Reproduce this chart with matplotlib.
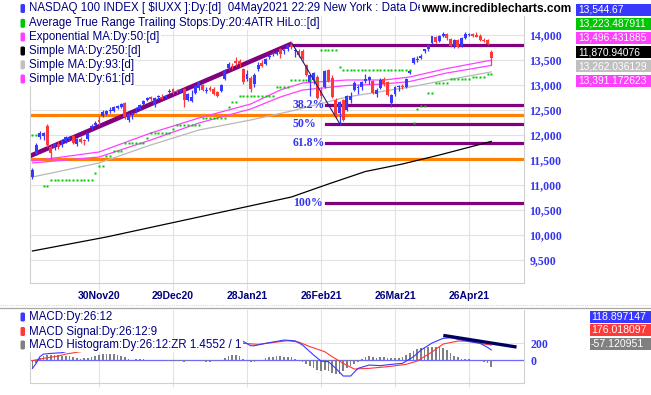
import numpy as np
import matplotlib.pyplot as plt
from matplotlib.patches import FancyBboxPatch, Rectangle

# x positions are trading-day numbers, 0 = 3 Nov 2020, 124 = 4 May 2021
date_ticks = [18, 38, 58, 78, 98, 118]
date_labels = ['30Nov20', '29Dec20', '28Jan21', '26Feb21', '26Mar21', '26Apr21']

opens = [11160, 11620, 11960, 11980, 12180, 11760, 11740, 11830, 11800, 11880,
         11930, 11980, 11820, 11920, 11890, 11920, 12150, 12200, 12300, 12380,
         12420, 12480, 12490, 12550, 12560, 12640, 12300, 12400, 12460, 12520,
         12620, 12700, 12760, 12600, 12760, 12770, 12760, 12860, 12930, 12880,
         12880, 12930, 12700, 12680, 12840, 12950, 13000, 12890, 12950, 12930,
         12860, 12880, 13120, 13340, 13380, 13480, 13480, 13320, 13120, 13150,
         13020, 13320, 13440, 13420, 13570, 13620, 13620, 13720, 13680, 13720,
         13800, 13680, 13680, 13680, 13400, 13060, 13100, 13160, 12900, 12960,
         13300, 13150, 12700, 12450, 12700, 12500, 12700, 12900, 12950, 12960,
         13080, 13100, 13080, 12820, 12950, 13120, 13060, 12640, 12820, 12960,
         12990, 12970, 13250, 13440, 13500, 13540, 13680, 13720, 13840, 13960,
         13880, 13990, 14030, 13920, 13780, 13910, 13790, 13950, 14000, 14020,
         14000, 13990, 13900, 13900, 13670]
highs = [11350, 11850, 12080, 12060, 12230, 11800, 11850, 11880, 11920, 11990,
         11990, 12010, 11950, 11960, 11930, 12060, 12220, 12280, 12380, 12500,
         12500, 12560, 12580, 12610, 12640, 12660, 12440, 12460, 12560, 12620,
         12700, 12760, 12780, 12760, 12800, 12820, 12810, 12930, 12940, 12920,
         12920, 12940, 12840, 12900, 13000, 13080, 13020, 12960, 12990, 12960,
         12880, 13020, 13320, 13460, 13440, 13560, 13520, 13340, 13300, 13190,
         13250, 13460, 13500, 13540, 13620, 13680, 13680, 13740, 13720, 13810,
         13870, 13740, 13720, 13720, 13420, 13220, 13260, 13200, 12960, 13300,
         13330, 13200, 12740, 12680, 12720, 12800, 12860, 13080, 13000, 13080,
         13220, 13190, 13100, 12950, 13140, 13160, 13080, 12830, 12990, 13000,
         13020, 13140, 13300, 13560, 13580, 13620, 13730, 13820, 13990, 13980,
         14010, 14060, 14050, 13950, 13920, 13930, 13960, 14060, 14050, 14040,
         14070, 14020, 13950, 13920, 13700]
lows = [11120, 11600, 11930, 11900, 11760, 11520, 11700, 11720, 11760, 11850,
        11880, 11820, 11780, 11840, 11800, 11880, 12130, 12180, 12200, 12370,
        12400, 12450, 12470, 12530, 12540, 12320, 12260, 12330, 12440, 12500,
        12600, 12680, 12680, 12560, 12700, 12720, 12740, 12840, 12820, 12840,
        12850, 12560, 12680, 12660, 12830, 12900, 12880, 12840, 12880, 12800,
        12760, 12860, 13100, 13300, 13320, 13380, 13360, 13020, 13080, 12860,
        12960, 13280, 13360, 13400, 13520, 13590, 13600, 13540, 13620, 13680,
        13730, 13570, 13570, 13480, 13180, 12780, 13020, 12720, 12720, 12940,
        13060, 12740, 12340, 12210, 12280, 12480, 12650, 12880, 12830, 12900,
        13040, 13020, 12820, 12760, 12930, 12990, 12780, 12560, 12780, 12880,
        12920, 12950, 13220, 13420, 13460, 13520, 13640, 13680, 13820, 13840,
        13860, 13960, 13900, 13760, 13740, 13740, 13770, 13930, 13980, 13960,
        13960, 13880, 13860, 13800, 13400]
closes = [11300, 11800, 12040, 12040, 11800, 11640, 11830, 11760, 11900, 11960,
          11950, 11840, 11930, 11860, 11880, 12040, 12180, 12250, 12260, 12470,
          12480, 12500, 12560, 12580, 12620, 12360, 12420, 12440, 12480, 12610,
          12680, 12740, 12720, 12740, 12770, 12730, 12790, 12880, 12860, 12870,
          12900, 12700, 12820, 12760, 12980, 13060, 12900, 12910, 12900, 12820,
          12790, 13000, 13300, 13420, 13370, 13440, 13420, 13070, 13220, 12930,
          13200, 13400, 13380, 13530, 13590, 13650, 13660, 13620, 13700, 13800,
          13760, 13710, 13600, 13530, 13210, 13200, 13240, 12740, 12780, 13280,
          13080, 12760, 12400, 12660, 12300, 12780, 12790, 13040, 12960, 13060,
          13120, 13160, 12840, 12900, 13100, 13020, 12800, 12800, 12960, 12980,
          12960, 13120, 13290, 13540, 13520, 13590, 13720, 13800, 13980, 13860,
          13990, 14020, 13940, 13790, 13900, 13760, 13940, 14030, 14030, 13990,
          13970, 13900, 13880, 13820, 13545]

# ATR trailing stop, read as runs of equal level
stop_first = [0, 3, 5, 17, 18, 20, 22, 25, 31, 32, 38, 39, 46, 53, 54, 56, 66, 70,
              78, 83, 84, 103, 104, 105, 107, 109, 113, 119, 123]
stop_last = [1, 4, 16, 17, 19, 21, 24, 30, 31, 37, 38, 45, 52, 53, 55, 65, 69, 77,
             82, 83, 102, 103, 104, 106, 108, 112, 118, 122, 124]
stop_level = [12000, 10990, 11100, 11250, 11390, 11580, 11680, 11840, 11940, 12040,
              12120, 12200, 12340, 12560, 12660, 12780, 12960, 13100, 13700, 13360,
              13300, 12240, 12520, 12580, 12850, 13040, 13120, 13160, 13220]

sma250_x = [0, 10, 20, 30, 40, 50, 60, 70, 80, 90, 100, 110, 124]
sma250_y = [9680, 9820, 9960, 10120, 10280, 10440, 10600, 10760, 11020, 11270,
            11420, 11600, 11871]
sma93_x = [0, 18, 32, 45, 59, 70, 85, 102, 112, 124]
sma93_y = [11160, 11440, 11800, 12100, 12300, 12480, 12760, 12960, 13100, 13262]
ma_x = [0, 18, 32, 45, 59, 67, 73, 85, 95, 102, 112, 124]
ema50_y = [11480, 11660, 12040, 12340, 12620, 12900, 13040, 13100, 13100, 13160,
           13330, 13496]
sma61_y = [11440, 11560, 11900, 12240, 12520, 12760, 12900, 12990, 13020, 13070,
           13240, 13391]

# drawn lines
trend_x = [-0.65, 70.2]
trend_y = [11580, 13830]
retrace_x = [70.2, 83.1]
retrace_y = [13830, 12220]
top_line_start = 70.2
fib_high = 13800
fib_low = 10640
fib_ratios = [0.382, 0.5, 0.618, 1.0]
fib_names = ['38.2%', '50%', '61.8%', '100%']
fib_start = 79.4
orange_levels = [12400, 11520]

# MACD panel
macd_x = [0, 1, 2, 3, 5, 8, 10, 15, 20, 25, 30, 35, 40, 45, 50, 53, 55, 56, 59, 60,
          63, 68, 71, 73, 76, 78, 80, 82, 84, 86, 88, 91, 94, 97, 100, 103, 105, 108,
          111, 113, 116, 118, 121, 123, 124]
macd_y = [-98, -40, 39, 70, 78, 86, 110, 150, 170, 175, 160, 150, 145, 150, 165, 200,
          235, 243, 168, 168, 196, 235, 226, 176, 59, -12, -20, -98, -188, -188,
          -98, -59, -66, -51, -39, 39, 117, 200, 255, 262, 235, 216, 196, 149, 119]
signal_x = [0, 3, 7, 9, 13, 20, 25, 30, 35, 40, 45, 50, 55, 57, 61, 69, 72, 75, 79,
            81, 84, 87, 91, 96, 101, 104, 108, 111, 115, 118, 122, 124]
signal_y = [-8, 20, 47, 70, 98, 135, 155, 160, 158, 152, 150, 155, 168, 196, 184, 227,
            211, 157, 98, 39, -39, -106, -98, -78, -51, -12, 95, 188, 223, 223, 188, 176]
hist = [-100, -40, 20, 45, 55, 60, 60, 55, 50, 50,
        45, 40, 25, 15, 20, 25, 40, 50, 60, 70,
        70, 70, 65, 60, 50, 30, 10, 5, 8, 10,
        8, 5, 3, 0, 0, -5, -5, -10, -15, -10,
        -8, -20, -15, -8, -5, 0, -15, -20, -20, -10,
        -12, 5, 25, 45, 60, 63, 45, 15, 5, -25,
        -22, -5, 5, 20, 30, 40, 42, 43, 40, 40,
        30, 15, 5, -24, -45, -74, -95, -115, -133, -115,
        -133, -150, -160, -165, -125, -95, -75, -50, -20, 10,
        30, 50, 35, 18, 30, 40, 18, 22, 24, 26,
        32, 55, 85, 110, 128, 138, 143, 148, 155, 157,
        150, 138, 118, 85, 50, 32, 14, 10, 8, 3,
        0, -5, -20, -40, -80]
macd_trend_x = [111.5, 130.4]
macd_trend_y = [286, 156]

main_legend = ['NASDAQ 100 INDEX [ \\$IUXX ]:Dy:[d]  04May2021 22:29 New York : Data De',
               'Average True Range Trailing Stops:Dy:20:4ATR HiLo::[d]',
               'Exponential MA:Dy:50:[d]', 'Simple MA:Dy:250:[d]',
               'Simple MA:Dy:93:[d]', 'Simple MA:Dy:61:[d]']
main_colors = ['#3838ff', '#00c800', '#ff40ff', '#000000', '#c0c0c0', '#ff40ff']
main_values = ['13,544.67', '13,223.487911', '13,496.431885', '11,870.94076',
               '13,262.036129', '13,391.172623']
macd_legend = ['MACD:Dy:26:12', 'MACD Signal:Dy:26:12:9', 'MACD Histogram:Dy:26:12:ZR 1.4552 / 1']
macd_colors = ['#3838ff', '#ff3838', '#808080']
macd_values = ['118.897147', '176.018097', '-57.120951']

NAVY = '#000080'
TICKBLUE = '#3535f0'
GRID = '#e2e2e2'
FRAME = '#d0d0d0'

W, H = 651, 395
fig = plt.figure(figsize=(6.51, 3.95), dpi=100)
plt.rcParams['font.family'] = ['Liberation Sans', 'DejaVu Sans']


def px_axes(l, t, r, b):
    return fig.add_axes([l / W, 1 - b / H, (r - l) / W, (b - t) / H])


# ---------------- price panel ----------------
ax = px_axes(30, 1, 524, 283)
ax.set_xlim(-0.65, 132.86)
ax.set_ylim(9040, 14680)
ax.set_yticks(range(9500, 14001, 500))
ax.set_yticklabels([f'{v:,}' for v in range(9500, 14001, 500)])
ax.yaxis.tick_right()
ax.tick_params(axis='y', length=0, pad=4, labelcolor=TICKBLUE, labelsize=8.5)
for t in ax.get_yticklabels():
    t.set_fontfamily('Liberation Serif')
    t.set_fontweight('bold')
ax.set_xticks(date_ticks)
ax.set_xticklabels(date_labels)
ax.tick_params(axis='x', length=5, color=GRID, pad=1, labelcolor=NAVY, labelsize=7.5)
for t in ax.get_xticklabels():
    t.set_fontweight('bold')
ax.grid(True, color=GRID, lw=0.8, zorder=0)
ax.set_axisbelow(True)
ax.spines['top'].set_visible(False)
for s in ['left', 'right', 'bottom']:
    ax.spines[s].set_color(FRAME)

for lvl in orange_levels:
    ax.axhline(lvl, color='#ff8000', lw=2.3, zorder=2)

ax.plot(trend_x, trend_y, color='#800080', lw=3.3, solid_capstyle='butt', zorder=2)
ax.plot([top_line_start, 132.86], [fib_high, fib_high], color='#800080', lw=2.3, zorder=2)
for r, name in zip(fib_ratios, fib_names):
    lvl = fib_high - r * (fib_high - fib_low)
    ax.plot([fib_start, 132.86], [lvl, lvl], color='#800080', lw=2.3, zorder=2)
    ax.text(70.4, lvl, name, color=TICKBLUE, fontsize=8.5, fontweight='bold',
            family='Liberation Serif', va='center', ha='left', zorder=5)
ax.plot(retrace_x, retrace_y, color='#202070', lw=0.8, zorder=4)

ax.plot(sma250_x, sma250_y, color='black', lw=0.9, zorder=2.5)
ax.plot(sma93_x, sma93_y, color='#b8b8b8', lw=0.9, zorder=2.5)
ax.plot(ma_x, ema50_y, color='#ff40ff', lw=0.9, zorder=2.5)
ax.plot(ma_x, sma61_y, color='#ff40ff', lw=0.9, zorder=2.5)

x = np.arange(len(closes))
o = np.array(opens)
c = np.array(closes)
cols = np.where(c >= o, '#3838ff', '#ff3838')
ax.vlines(x, lows, highs, colors=cols, lw=0.9, zorder=3)
ax.bar(x, np.maximum(np.abs(c - o), 16), bottom=np.minimum(o, c), width=0.8,
       color=cols, zorder=3.2)

stops = np.full(len(closes), np.nan)
for a, b, lvl in zip(stop_first, stop_last, stop_level):
    stops[a:b + 1] = lvl
ax.plot(x, stops, 's', color='#00c800', ms=1.5, mec='none', zorder=3.5)

# ---------------- MACD panel ----------------
mx = px_axes(30, 310, 524, 383)
mx.set_xlim(-0.65, 132.86)
mx.set_ylim(-270, 588)
mx.set_xticks(date_ticks)
mx.set_xticklabels([])
mx.tick_params(axis='x', length=3, color=GRID)
mx.set_yticks([0, 200])
mx.set_yticklabels(['0', '200'])
mx.yaxis.tick_right()
mx.tick_params(axis='y', length=0, pad=5, labelcolor=TICKBLUE, labelsize=8.5)
for t in mx.get_yticklabels():
    t.set_fontfamily('Liberation Serif')
    t.set_fontweight('bold')
mx.grid(True, color=GRID, lw=0.8)
mx.set_axisbelow(True)
mx.spines['top'].set_visible(False)
for s in ['left', 'right', 'bottom']:
    mx.spines[s].set_color(FRAME)
mx.axhline(0, color='#6a6aff', lw=0.9, zorder=1)
mx.bar(x, hist, width=0.45, color='#808080', zorder=2)
mx.plot(signal_x, signal_y, color='#ff3838', lw=0.8, zorder=3)
mx.plot(macd_x, macd_y, color='#3838ff', lw=0.8, zorder=3)
mx.plot(macd_trend_x, macd_trend_y, color='#000060', lw=2.4, zorder=4)

# ---------------- overlay: legends, value boxes ----------------
ov = fig.add_axes([0, 0, 1, 1])
ov.set_xlim(0, W)
ov.set_ylim(H, 0)
ov.axis('off')
ov.set_zorder(10)

ov.plot([0, W], [305, 305], color='#e8d0e0', lw=0.8, ls=(0, (1, 1)))
ov.plot([0, W], [308, 308], color='#a8a8a8', lw=0.9)

main_rows = [8.5, 23.3, 37, 51, 64.8, 79]
for txt, col, yc in zip(main_legend, main_colors, main_rows):
    ov.add_patch(FancyBboxPatch((20.5, yc - 4.5), 4.5, 9, boxstyle='round,pad=0,rounding_size=1.5',
                                fc=col, ec='none'))
    ov.text(29, yc, txt, color=NAVY, fontsize=8.3, va='center', ha='left',
            bbox=dict(fc='white', ec='none', pad=0.8))
ov.text(421, 8.5, 'www.incrediblecharts.com', color='black', fontsize=8.6, fontweight='bold',
        va='center', ha='left', bbox=dict(fc='white', ec='none', pad=1.0))

for k, (val, col) in enumerate(zip(main_values, main_colors)):
    yc = 9.5 + 14.2 * k
    ov.add_patch(Rectangle((576, yc - 6), 75, 12, fc=col, ec='none'))
    ov.text(578, yc, val, color='white', fontsize=7.4, va='center', ha='left')

macd_rows = [317, 331.5, 345]
for txt, col, yc in zip(macd_legend, macd_colors, macd_rows):
    ov.add_patch(FancyBboxPatch((20.5, yc - 4.5), 4.5, 9, boxstyle='round,pad=0,rounding_size=1.5',
                                fc=col, ec='none'))
    ov.text(29, yc, txt, color=NAVY, fontsize=8.3, va='center', ha='left',
            bbox=dict(fc='white', ec='none', pad=0.8))

for k, (val, col) in enumerate(zip(macd_values, macd_colors)):
    yc = 316.5 + 13.8 * k
    ov.add_patch(Rectangle((590, yc - 6), 61, 12, fc=col, ec='none'))
    ov.text(591, yc, val, color='white', fontsize=7.6, va='center', ha='left')

fig.savefig('out.png', dpi=100)
